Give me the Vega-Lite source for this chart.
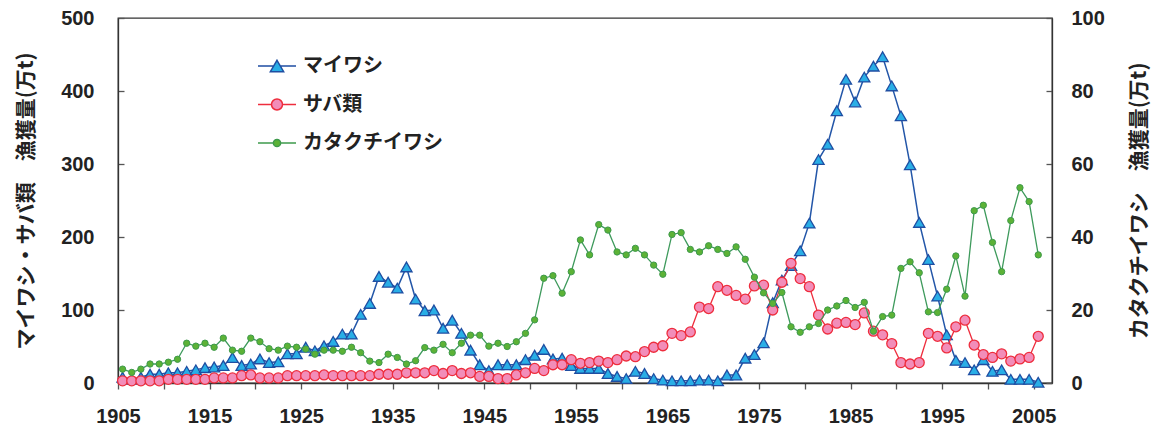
{
  "$schema": "https://vega.github.io/schema/vega-lite/v6.json",
  "width": 934,
  "height": 365,
  "autosize": "none",
  "padding": {"left": 118, "top": 18, "right": 108, "bottom": 42},
  "background": "white",
  "config": {
    "view": {"stroke": "#333333", "strokeWidth": 1.3},
    "axis": {
      "labelFont": "Liberation Sans", "labelFontWeight": "bold", "labelFontSize": 20, "labelColor": "#222222",
      "titleFont": "Noto Sans CJK JP", "titleFontWeight": "bold", "titleFontSize": 21, "titleColor": "#222222",
      "domainColor": "#333333", "domainWidth": 1.3, "tickColor": "#555555", "tickWidth": 1.3, "grid": false
    }
  },
  "data": {"values": [
    {"y":1905,"s":"マイワシ","v":8},{"y":1906,"s":"マイワシ","v":5},{"y":1907,"s":"マイワシ","v":8},{"y":1908,"s":"マイワシ","v":12},{"y":1909,"s":"マイワシ","v":12},
    {"y":1910,"s":"マイワシ","v":14},{"y":1911,"s":"マイワシ","v":14},{"y":1912,"s":"マイワシ","v":16},{"y":1913,"s":"マイワシ","v":18},{"y":1914,"s":"マイワシ","v":21},
    {"y":1915,"s":"マイワシ","v":22},{"y":1916,"s":"マイワシ","v":24},{"y":1917,"s":"マイワシ","v":35},{"y":1918,"s":"マイワシ","v":24},{"y":1919,"s":"マイワシ","v":26},
    {"y":1920,"s":"マイワシ","v":33},{"y":1921,"s":"マイワシ","v":28},{"y":1922,"s":"マイワシ","v":29},{"y":1923,"s":"マイワシ","v":40},{"y":1924,"s":"マイワシ","v":40},
    {"y":1925,"s":"マイワシ","v":49},{"y":1926,"s":"マイワシ","v":44},{"y":1927,"s":"マイワシ","v":51},{"y":1928,"s":"マイワシ","v":57},{"y":1929,"s":"マイワシ","v":67},
    {"y":1930,"s":"マイワシ","v":67},{"y":1931,"s":"マイワシ","v":94},{"y":1932,"s":"マイワシ","v":109},{"y":1933,"s":"マイワシ","v":146},{"y":1934,"s":"マイワシ","v":138},
    {"y":1935,"s":"マイワシ","v":130},{"y":1936,"s":"マイワシ","v":159},{"y":1937,"s":"マイワシ","v":115},{"y":1938,"s":"マイワシ","v":99},{"y":1939,"s":"マイワシ","v":100},
    {"y":1940,"s":"マイワシ","v":75},{"y":1941,"s":"マイワシ","v":86},{"y":1942,"s":"マイワシ","v":68},{"y":1943,"s":"マイワシ","v":45},{"y":1944,"s":"マイワシ","v":25},
    {"y":1945,"s":"マイワシ","v":17},{"y":1946,"s":"マイワシ","v":25},{"y":1947,"s":"マイワシ","v":25},{"y":1948,"s":"マイワシ","v":25},{"y":1949,"s":"マイワシ","v":32},
    {"y":1950,"s":"マイワシ","v":38},{"y":1951,"s":"マイワシ","v":46},{"y":1952,"s":"マイワシ","v":33},{"y":1953,"s":"マイワシ","v":34},{"y":1954,"s":"マイワシ","v":24},
    {"y":1955,"s":"マイワシ","v":20},{"y":1956,"s":"マイワシ","v":20},{"y":1957,"s":"マイワシ","v":20},{"y":1958,"s":"マイワシ","v":13},{"y":1959,"s":"マイワシ","v":9},
    {"y":1960,"s":"マイワシ","v":6},{"y":1961,"s":"マイワシ","v":16},{"y":1962,"s":"マイワシ","v":13},{"y":1963,"s":"マイワシ","v":6},{"y":1964,"s":"マイワシ","v":4},
    {"y":1965,"s":"マイワシ","v":3},{"y":1966,"s":"マイワシ","v":3},{"y":1967,"s":"マイワシ","v":3},{"y":1968,"s":"マイワシ","v":4},{"y":1969,"s":"マイワシ","v":4},
    {"y":1970,"s":"マイワシ","v":3},{"y":1971,"s":"マイワシ","v":11},{"y":1972,"s":"マイワシ","v":11},{"y":1973,"s":"マイワシ","v":34},{"y":1974,"s":"マイワシ","v":39},
    {"y":1975,"s":"マイワシ","v":55},{"y":1976,"s":"マイワシ","v":110},{"y":1977,"s":"マイワシ","v":141},{"y":1978,"s":"マイワシ","v":161},{"y":1979,"s":"マイワシ","v":181},
    {"y":1980,"s":"マイワシ","v":219},{"y":1981,"s":"マイワシ","v":306},{"y":1982,"s":"マイワシ","v":327},{"y":1983,"s":"マイワシ","v":373},{"y":1984,"s":"マイワシ","v":416},
    {"y":1985,"s":"マイワシ","v":385},{"y":1986,"s":"マイワシ","v":419},{"y":1987,"s":"マイワシ","v":434},{"y":1988,"s":"マイワシ","v":447},{"y":1989,"s":"マイワシ","v":407},
    {"y":1990,"s":"マイワシ","v":366},{"y":1991,"s":"マイワシ","v":299},{"y":1992,"s":"マイワシ","v":220},{"y":1993,"s":"マイワシ","v":169},{"y":1994,"s":"マイワシ","v":119},
    {"y":1995,"s":"マイワシ","v":66},{"y":1996,"s":"マイワシ","v":31},{"y":1997,"s":"マイワシ","v":28},{"y":1998,"s":"マイワシ","v":18},{"y":1999,"s":"マイワシ","v":32},
    {"y":2000,"s":"マイワシ","v":16},{"y":2001,"s":"マイワシ","v":18},{"y":2002,"s":"マイワシ","v":5},{"y":2003,"s":"マイワシ","v":5},{"y":2004,"s":"マイワシ","v":5},
    {"y":2005,"s":"マイワシ","v":1},

    {"y":1905,"s":"サバ類","v":3},{"y":1906,"s":"サバ類","v":3},{"y":1907,"s":"サバ類","v":3},{"y":1908,"s":"サバ類","v":3},{"y":1909,"s":"サバ類","v":3},
    {"y":1910,"s":"サバ類","v":5},{"y":1911,"s":"サバ類","v":5},{"y":1912,"s":"サバ類","v":5},{"y":1913,"s":"サバ類","v":5},{"y":1914,"s":"サバ類","v":5},
    {"y":1915,"s":"サバ類","v":7},{"y":1916,"s":"サバ類","v":7},{"y":1917,"s":"サバ類","v":7},{"y":1918,"s":"サバ類","v":10},{"y":1919,"s":"サバ類","v":11},
    {"y":1920,"s":"サバ類","v":7},{"y":1921,"s":"サバ類","v":7},{"y":1922,"s":"サバ類","v":7},{"y":1923,"s":"サバ類","v":10},{"y":1924,"s":"サバ類","v":10},
    {"y":1925,"s":"サバ類","v":10},{"y":1926,"s":"サバ類","v":10},{"y":1927,"s":"サバ類","v":11},{"y":1928,"s":"サバ類","v":10},{"y":1929,"s":"サバ類","v":10},
    {"y":1930,"s":"サバ類","v":10},{"y":1931,"s":"サバ類","v":10},{"y":1932,"s":"サバ類","v":10},{"y":1933,"s":"サバ類","v":12},{"y":1934,"s":"サバ類","v":12},
    {"y":1935,"s":"サバ類","v":12},{"y":1936,"s":"サバ類","v":14},{"y":1937,"s":"サバ類","v":14},{"y":1938,"s":"サバ類","v":14},{"y":1939,"s":"サバ類","v":17},
    {"y":1940,"s":"サバ類","v":13},{"y":1941,"s":"サバ類","v":17},{"y":1942,"s":"サバ類","v":13},{"y":1943,"s":"サバ類","v":14},{"y":1944,"s":"サバ類","v":9},
    {"y":1945,"s":"サバ類","v":9},{"y":1946,"s":"サバ類","v":6},{"y":1947,"s":"サバ類","v":6},{"y":1948,"s":"サバ類","v":11},{"y":1949,"s":"サバ類","v":14},
    {"y":1950,"s":"サバ類","v":20},{"y":1951,"s":"サバ類","v":17},{"y":1952,"s":"サバ類","v":25},{"y":1953,"s":"サバ類","v":25},{"y":1954,"s":"サバ類","v":32},
    {"y":1955,"s":"サバ類","v":27},{"y":1956,"s":"サバ類","v":28},{"y":1957,"s":"サバ類","v":30},{"y":1958,"s":"サバ類","v":28},{"y":1959,"s":"サバ類","v":32},
    {"y":1960,"s":"サバ類","v":37},{"y":1961,"s":"サバ類","v":36},{"y":1962,"s":"サバ類","v":43},{"y":1963,"s":"サバ類","v":49},{"y":1964,"s":"サバ類","v":51},
    {"y":1965,"s":"サバ類","v":68},{"y":1966,"s":"サバ類","v":65},{"y":1967,"s":"サバ類","v":70},{"y":1968,"s":"サバ類","v":104},{"y":1969,"s":"サバ類","v":102},
    {"y":1970,"s":"サバ類","v":132},{"y":1971,"s":"サバ類","v":127},{"y":1972,"s":"サバ類","v":120},{"y":1973,"s":"サバ類","v":115},{"y":1974,"s":"サバ類","v":133},
    {"y":1975,"s":"サバ類","v":134},{"y":1976,"s":"サバ類","v":100},{"y":1977,"s":"サバ類","v":138},{"y":1978,"s":"サバ類","v":164},{"y":1979,"s":"サバ類","v":143},
    {"y":1980,"s":"サバ類","v":132},{"y":1981,"s":"サバ類","v":93},{"y":1982,"s":"サバ類","v":74},{"y":1983,"s":"サバ類","v":82},{"y":1984,"s":"サバ類","v":83},
    {"y":1985,"s":"サバ類","v":80},{"y":1986,"s":"サバ類","v":96},{"y":1987,"s":"サバ類","v":71},{"y":1988,"s":"サバ類","v":66},{"y":1989,"s":"サバ類","v":54},
    {"y":1990,"s":"サバ類","v":28},{"y":1991,"s":"サバ類","v":26},{"y":1992,"s":"サバ類","v":28},{"y":1993,"s":"サバ類","v":68},{"y":1994,"s":"サバ類","v":64},
    {"y":1995,"s":"サバ類","v":48},{"y":1996,"s":"サバ類","v":77},{"y":1997,"s":"サバ類","v":86},{"y":1998,"s":"サバ類","v":52},{"y":1999,"s":"サバ類","v":39},
    {"y":2000,"s":"サバ類","v":35},{"y":2001,"s":"サバ類","v":40},{"y":2002,"s":"サバ類","v":30},{"y":2003,"s":"サバ類","v":33},{"y":2004,"s":"サバ類","v":35},
    {"y":2005,"s":"サバ類","v":64},

    {"y":1905,"s":"カタクチイワシ","v":3.8},{"y":1906,"s":"カタクチイワシ","v":2.9},{"y":1907,"s":"カタクチイワシ","v":3.8},{"y":1908,"s":"カタクチイワシ","v":5.2},{"y":1909,"s":"カタクチイワシ","v":5.2},
    {"y":1910,"s":"カタクチイワシ","v":5.7},{"y":1911,"s":"カタクチイワシ","v":6.5},{"y":1912,"s":"カタクチイワシ","v":10.9},{"y":1913,"s":"カタクチイワシ","v":10.1},{"y":1914,"s":"カタクチイワシ","v":10.9},
    {"y":1915,"s":"カタクチイワシ","v":9.8},{"y":1916,"s":"カタクチイワシ","v":12.3},{"y":1917,"s":"カタクチイワシ","v":9.0},{"y":1918,"s":"カタクチイワシ","v":8.7},{"y":1919,"s":"カタクチイワシ","v":12.3},
    {"y":1920,"s":"カタクチイワシ","v":11.3},{"y":1921,"s":"カタクチイワシ","v":9.4},{"y":1922,"s":"カタクチイワシ","v":9.0},{"y":1923,"s":"カタクチイワシ","v":10.1},{"y":1924,"s":"カタクチイワシ","v":9.8},
    {"y":1925,"s":"カタクチイワシ","v":9.3},{"y":1926,"s":"カタクチイワシ","v":7.9},{"y":1927,"s":"カタクチイワシ","v":9.0},{"y":1928,"s":"カタクチイワシ","v":9.0},{"y":1929,"s":"カタクチイワシ","v":8.7},
    {"y":1930,"s":"カタクチイワシ","v":9.8},{"y":1931,"s":"カタクチイワシ","v":8.3},{"y":1932,"s":"カタクチイワシ","v":6.0},{"y":1933,"s":"カタクチイワシ","v":5.6},{"y":1934,"s":"カタクチイワシ","v":7.9},
    {"y":1935,"s":"カタクチイワシ","v":7.0},{"y":1936,"s":"カタクチイワシ","v":5.2},{"y":1937,"s":"カタクチイワシ","v":6.1},{"y":1938,"s":"カタクチイワシ","v":9.7},{"y":1939,"s":"カタクチイワシ","v":9.0},
    {"y":1940,"s":"カタクチイワシ","v":10.6},{"y":1941,"s":"カタクチイワシ","v":8.3},{"y":1942,"s":"カタクチイワシ","v":10.9},{"y":1943,"s":"カタクチイワシ","v":13.1},{"y":1944,"s":"カタクチイワシ","v":13.1},
    {"y":1945,"s":"カタクチイワシ","v":10.1},{"y":1946,"s":"カタクチイワシ","v":10.9},{"y":1947,"s":"カタクチイワシ","v":10.0},{"y":1948,"s":"カタクチイワシ","v":11.3},{"y":1949,"s":"カタクチイワシ","v":13.6},
    {"y":1950,"s":"カタクチイワシ","v":17.3},{"y":1951,"s":"カタクチイワシ","v":28.7},{"y":1952,"s":"カタクチイワシ","v":29.4},{"y":1953,"s":"カタクチイワシ","v":24.6},{"y":1954,"s":"カタクチイワシ","v":30.5},
    {"y":1955,"s":"カタクチイワシ","v":39.2},{"y":1956,"s":"カタクチイワシ","v":35.1},{"y":1957,"s":"カタクチイワシ","v":43.4},{"y":1958,"s":"カタクチイワシ","v":41.9},{"y":1959,"s":"カタクチイワシ","v":35.9},
    {"y":1960,"s":"カタクチイワシ","v":35.1},{"y":1961,"s":"カタクチイワシ","v":36.9},{"y":1962,"s":"カタクチイワシ","v":35.1},{"y":1963,"s":"カタクチイワシ","v":32.3},{"y":1964,"s":"カタクチイワシ","v":29.8},
    {"y":1965,"s":"カタクチイワシ","v":40.7},{"y":1966,"s":"カタクチイワシ","v":41.2},{"y":1967,"s":"カタクチイワシ","v":36.6},{"y":1968,"s":"カタクチイワシ","v":35.9},{"y":1969,"s":"カタクチイワシ","v":37.6},
    {"y":1970,"s":"カタクチイワシ","v":36.6},{"y":1971,"s":"カタクチイワシ","v":35.5},{"y":1972,"s":"カタクチイワシ","v":37.3},{"y":1973,"s":"カタクチイワシ","v":33.9},{"y":1974,"s":"カタクチイワシ","v":29.0},
    {"y":1975,"s":"カタクチイワシ","v":24.7},{"y":1976,"s":"カタクチイワシ","v":21.8},{"y":1977,"s":"カタクチイワシ","v":24.8},{"y":1978,"s":"カタクチイワシ","v":15.4},{"y":1979,"s":"カタクチイワシ","v":13.9},
    {"y":1980,"s":"カタクチイワシ","v":15.4},{"y":1981,"s":"カタクチイワシ","v":16.3},{"y":1982,"s":"カタクチイワシ","v":20.0},{"y":1983,"s":"カタクチイワシ","v":21.1},{"y":1984,"s":"カタクチイワシ","v":22.6},
    {"y":1985,"s":"カタクチイワシ","v":20.7},{"y":1986,"s":"カタクチイワシ","v":22.1},{"y":1987,"s":"カタクチイワシ","v":14.2},{"y":1988,"s":"カタクチイワシ","v":18.2},{"y":1989,"s":"カタクチイワシ","v":18.6},
    {"y":1990,"s":"カタクチイワシ","v":31.4},{"y":1991,"s":"カタクチイワシ","v":33.2},{"y":1992,"s":"カタクチイワシ","v":30.2},{"y":1993,"s":"カタクチイワシ","v":19.5},{"y":1994,"s":"カタクチイワシ","v":19.3},
    {"y":1995,"s":"カタクチイワシ","v":25.7},{"y":1996,"s":"カタクチイワシ","v":34.8},{"y":1997,"s":"カタクチイワシ","v":23.8},{"y":1998,"s":"カタクチイワシ","v":47.2},{"y":1999,"s":"カタクチイワシ","v":48.7},
    {"y":2000,"s":"カタクチイワシ","v":38.5},{"y":2001,"s":"カタクチイワシ","v":30.5},{"y":2002,"s":"カタクチイワシ","v":44.5},{"y":2003,"s":"カタクチイワシ","v":53.5},{"y":2004,"s":"カタクチイワシ","v":49.7},
    {"y":2005,"s":"カタクチイワシ","v":35.1}
  ]},
  "encoding": {
    "x": {
      "field": "y", "type": "quantitative",
      "scale": {"domain": [1904.5, 2006.5], "nice": false, "zero": false},
      "axis": {
        "title": null,
        "values": [1904.5,1909.5,1914.5,1919.5,1924.5,1929.5,1934.5,1939.5,1944.5,1949.5,1954.5,1959.5,1964.5,1969.5,1974.5,1979.5,1984.5,1989.5,1994.5,1999.5,2004.5],
        "labelExpr": "((datum.value - 1904.5) % 10 == 0) ? format(datum.value + 0.5, 'd') : ''",
        "labelDx": 4.6, "tickSize": 6, "labelPadding": 17, "labelFlush": false, "labelOverlap": false, "labelBound": false
      }
    }
  },
  "layer": [
    {
      "transform": [{"filter": "datum.s != 'カタクチイワシ'"}],
      "encoding": {
        "y": {
          "field": "v", "type": "quantitative",
          "scale": {"domain": [0, 500], "nice": false},
          "axis": {"orient": "left", "values": [0,100,200,300,400,500], "title": "マイワシ・サバ類　漁獲量(万t)", "tickSize": -6, "labelPadding": 30, "titlePadding": 24}
        }
      },
      "layer": [
        {"transform": [{"filter": "datum.s == 'マイワシ'"}], "mark": {"type": "line", "color": "#2356A8", "strokeWidth": 1.5}},
        {"transform": [{"filter": "datum.s == 'マイワシ'"}],
         "mark": {"type": "point", "shape": "triangle-up", "filled": true, "size": 125, "strokeWidth": 1.3, "opacity": 1},
         "encoding": {
           "fill": {"field": "s", "type": "nominal", "scale": {"domain": ["マイワシ","サバ類","カタクチイワシ"], "range": ["#29AEE6","#F28DB9","#5CB236"]},
             "legend": {"title": null, "orient": "none", "legendX": 139, "legendY": 28, "symbolSize": 1444, "symbolStrokeWidth": 1.5, "symbolOpacity": 1, "rowPadding": 8.5, "labelOffset": 6,
               "labelFont": "Noto Sans CJK JP", "labelFontSize": 20, "labelFontWeight": "bold", "labelColor": "#222222",
               "encode": {"symbols": {"update": {"shape": {"signal": "datum.value === 'マイワシ' ? 'M-1,0H-0.19M0.19,0H1M0,-0.3L0.35,0.3L-0.35,0.3Z' : (datum.value === 'サバ類' ? 'M-1,0H-0.29M0.29,0H1M-0.29,0A0.29,0.29,0,1,0,0.29,0A0.29,0.29,0,1,0,-0.29,0Z' : 'M-1,0H-0.19M0.19,0H1M-0.19,0A0.19,0.19,0,1,0,0.19,0A0.19,0.19,0,1,0,-0.19,0Z')"}}}}}},
           "stroke": {"field": "s", "type": "nominal", "scale": {"domain": ["マイワシ","サバ類","カタクチイワシ"], "range": ["#1F4EA2","#EE2D3D","#3E9A4C"]}}
         }},
        {"transform": [{"filter": "datum.s == 'サバ類'"}], "mark": {"type": "line", "color": "#EE2D3D", "strokeWidth": 1.3}},
        {"transform": [{"filter": "datum.s == 'サバ類'"}],
         "mark": {"type": "point", "shape": "circle", "filled": true, "size": 100, "strokeWidth": 1.3, "opacity": 1},
         "encoding": {
           "fill": {"field": "s", "type": "nominal"},
           "stroke": {"field": "s", "type": "nominal"}
         }}
      ]
    },
    {
      "transform": [{"filter": "datum.s == 'カタクチイワシ'"}],
      "encoding": {
        "y": {
          "field": "v", "type": "quantitative",
          "scale": {"domain": [0, 100], "nice": false},
          "axis": {"orient": "right", "values": [0,20,40,60,80,100], "title": "カタクチイワシ　漁獲量(万t)", "titleAngle": 270, "tickSize": -6, "labelPadding": 25, "titlePadding": 45}
        }
      },
      "layer": [
        {"mark": {"type": "line", "color": "#3E9A5C", "strokeWidth": 1.3}},
        {"mark": {"type": "point", "shape": "circle", "filled": true, "size": 40, "strokeWidth": 1, "opacity": 1},
         "encoding": {
           "fill": {"field": "s", "type": "nominal"},
           "stroke": {"field": "s", "type": "nominal"}
         }}
      ]
    }
  ],
  "resolve": {"scale": {"y": "independent"}}
}
